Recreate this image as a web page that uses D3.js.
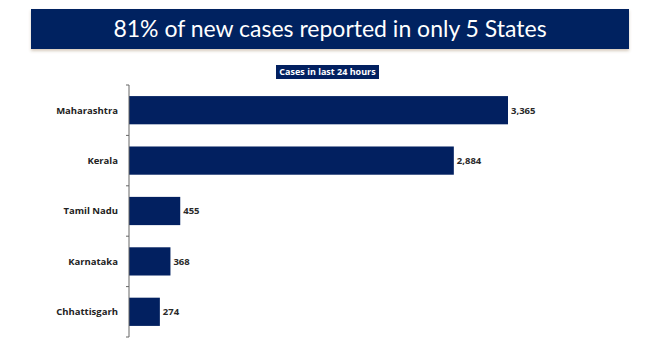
<!DOCTYPE html>
<html>
<head>
<meta charset="utf-8">
<script src="https://cdn.jsdelivr.net/npm/d3@7"></script>
<style>
  body { margin: 0; background: #fff; }
  svg { display: block; }
</style>
</head>
<body>
<div id="chart"></div>
<script>
const states = ['Maharashtra', 'Kerala', 'Tamil Nadu', 'Karnataka', 'Chhattisgarh'];
const cases = [3365, 2884, 455, 368, 274];
const title = '81% of new cases reported in only 5 States';
const subtitle = 'Cases in last 24 hours';

const width = 650, height = 352;
const navy = '#022060';
const margin = { top: 85, left: 129 };
const plotH = 252;

const svg = d3.select('#chart')
  .append('svg')
  .attr('width', width)
  .attr('height', height);

// banner with soft shadow
const shadow = svg.append('defs').append('filter').attr('id', 'shadow')
  .attr('x', '-5%').attr('y', '-10%').attr('width', '110%').attr('height', '140%');
shadow.append('feDropShadow')
  .attr('dx', 0).attr('dy', 2).attr('stdDeviation', 1.5)
  .attr('flood-color', '#8a6a40').attr('flood-opacity', 0.35);

svg.append('rect')
  .attr('x', 31).attr('y', 9)
  .attr('width', 598).attr('height', 40)
  .attr('fill', navy)
  .attr('filter', 'url(#shadow)');

svg.append('text')
  .attr('x', 330).attr('y', 37)
  .attr('text-anchor', 'middle')
  .attr('fill', '#fff')
  .style('font-family', 'Lato, "Open Sans", sans-serif')
  .style('font-size', '23px')
  .text(title);

// subtitle tag
const sub = svg.append('g').attr('transform', 'translate(327.5, 72)');
sub.append('rect')
  .attr('x', -51.5).attr('y', -7)
  .attr('width', 103).attr('height', 14)
  .attr('fill', navy);
sub.append('text')
  .attr('text-anchor', 'middle')
  .attr('dy', '0.35em')
  .attr('fill', '#fff')
  .style('font-family', '"Open Sans", sans-serif')
  .style('font-weight', 'bold')
  .style('font-size', '9px')
  .text(subtitle);

const y = d3.scaleBand()
  .domain(states)
  .range([margin.top, margin.top + plotH])
  .paddingInner(0.44)
  .paddingOuter(0.22);

const x = d3.scaleLinear()
  .domain([0, 3365])
  .range([margin.left, 508]);

const rows = states.map((s, i) => ({ state: s, value: cases[i] }));

svg.append('g')
  .selectAll('rect')
  .data(rows)
  .join('rect')
  .attr('x', x(0))
  .attr('y', d => y(d.state))
  .attr('width', d => x(d.value) - x(0))
  .attr('height', y.bandwidth())
  .attr('fill', navy);

svg.append('g')
  .selectAll('text')
  .data(rows)
  .join('text')
  .attr('x', d => x(d.value) + 3)
  .attr('y', d => y(d.state) + y.bandwidth() / 2)
  .attr('dy', '0.35em')
  .attr('fill', '#2a2a2a')
  .style('font-family', '"Open Sans", sans-serif')
  .style('font-weight', 'bold')
  .style('font-size', '9.5px')
  .text(d => d3.format(',')(d.value));

// category axis, ticks sit between the bands
const axis = svg.append('g');
axis.append('line')
  .attr('x1', x(0)).attr('x2', x(0))
  .attr('y1', margin.top).attr('y2', margin.top + plotH)
  .attr('stroke', '#666');

const boundaries = d3.range(states.length + 1).map(i => margin.top + i * plotH / states.length);
axis.selectAll('.tick')
  .data(boundaries)
  .join('line')
  .attr('class', 'tick')
  .attr('x1', x(0) - 3).attr('x2', x(0))
  .attr('y1', d => d).attr('y2', d => d)
  .attr('stroke', '#666');

axis.selectAll('.label')
  .data(states)
  .join('text')
  .attr('class', 'label')
  .attr('x', 118)
  .attr('y', d => y(d) + y.bandwidth() / 2)
  .attr('dy', '0.35em')
  .attr('text-anchor', 'end')
  .attr('fill', '#222')
  .style('font-family', '"Open Sans", sans-serif')
  .style('font-weight', 'bold')
  .style('font-size', '9.5px')
  .text(d => d);
</script>
</body>
</html>
